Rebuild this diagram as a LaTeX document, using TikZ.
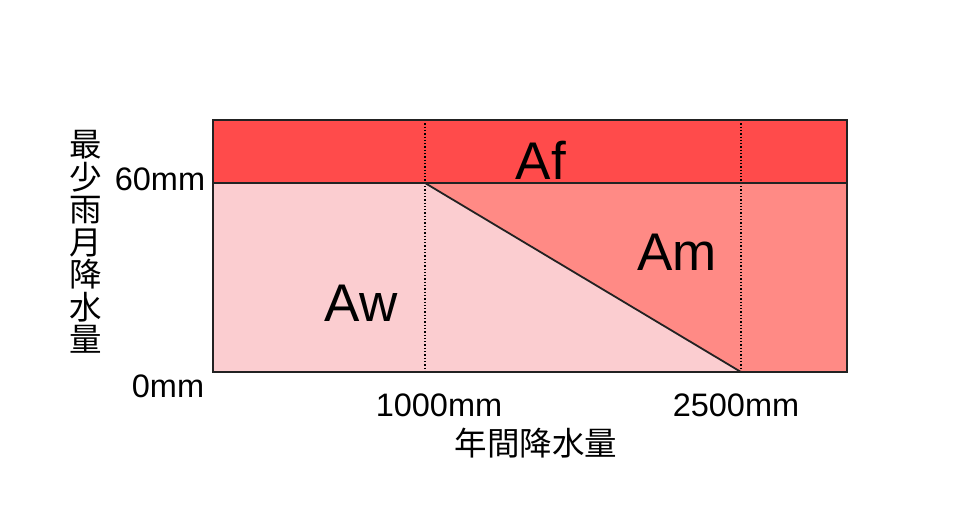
\documentclass[tikz,border=0pt]{standalone}
\usepackage{fontspec}
\setmainfont{Liberation Sans}
\newfontfamily\cjk{Noto Sans CJK JP}
\definecolor{afcol}{HTML}{FF4B4B}
\definecolor{amcol}{HTML}{FF8A85}
\definecolor{awcol}{HTML}{FBCDD0}
\definecolor{edge}{HTML}{222222}
\tikzset{
  bigtxt/.style={font=\fontsize{53}{57}\selectfont, inner sep=0pt},
  ticktxt/.style={font=\fontsize{32.5}{36}\selectfont, inner sep=0pt},
  cjktxt/.style={font=\cjk\fontsize{32.5}{32.5}\selectfont, inner sep=0pt},
  guide/.style={line width=1.3pt, dotted, black},
  frame/.style={line width=1.8pt, edge},
}
\begin{document}
\begin{tikzpicture}[x=1pt,y=-1pt]
\useasboundingbox (0,0) rectangle (960,520);
% corner coordinates
\coordinate (tl) at (213,120);
\coordinate (tr) at (847,120);
\coordinate (ml) at (213,183);
\coordinate (mr) at (847,183);
\coordinate (bl) at (213,372);
\coordinate (br) at (847,372);
\coordinate (p1) at (425,183);
\coordinate (p2) at (741,372);
\coordinate (g1t) at (425,120);
\coordinate (g1b) at (425,372);
\coordinate (g2t) at (741,120);
\coordinate (g2b) at (741,372);
% fills
\fill[awcol] (ml) -- (p1) -- (p2) -- (bl) -- cycle;
\fill[amcol] (p1) -- (mr) -- (br) -- (p2) -- cycle;
\fill[afcol] (tl) rectangle (mr);
% dotted guides
\draw[guide] (g1t) -- (g1b);
\draw[guide] (g2t) -- (g2b);
% frame
\draw[frame] (tl) rectangle (br);
\draw[frame] (ml) -- (mr);
\draw[line width=1.8pt, edge] (p1) -- (p2);
% region labels
\node[bigtxt] (af) at (541,160) {Af};
\node[bigtxt] (am) at (677,252) {Am};
\node[bigtxt] (aw) at (361,303) {Aw};
% tick labels
\node[ticktxt] (t60) at (160,179) {60mm};
\node[ticktxt] (t0) at (168,386) {0mm};
\node[ticktxt] (t1000) at (439,405) {1000mm};
\node[ticktxt] (t2500) at (736,405) {2500mm};
% axis titles
\node[cjktxt] (xlab) at (536,443) {年間降水量};
\node[cjktxt, align=center] (ylab) at (86,242) {最\\少\\雨\\月\\降\\水\\量};
\end{tikzpicture}
\end{document}
